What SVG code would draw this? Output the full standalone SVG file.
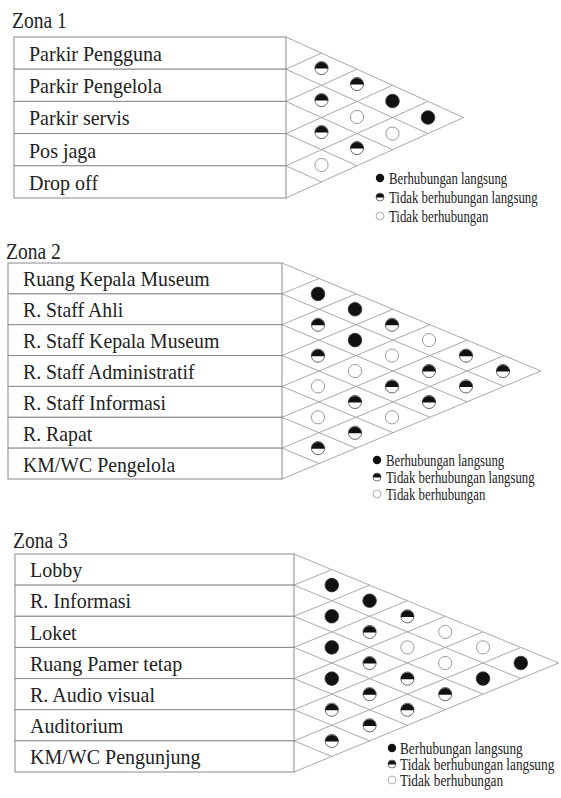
<svg xmlns="http://www.w3.org/2000/svg" xmlns:xlink="http://www.w3.org/1999/xlink" width="561" height="798" viewBox="0 0 561 798">
<style>
.bg{fill:#ffffff}
.box{fill:#ffffff;stroke:#8a8a8a;stroke-width:1}
.grid{stroke:#a8a8a8;stroke-width:1;fill:none}
.title{font-family:"Liberation Serif","Times New Roman",serif;font-size:23px;fill:#222}
.lbl{font-family:"Liberation Serif","Times New Roman",serif;font-size:22px;fill:#222}
.leg{font-family:"Liberation Serif","Times New Roman",serif;font-size:16px;fill:#222}
</style>
<defs>
<g id="full"><circle r="6.8" fill="#111" stroke="#333" stroke-width="0.8"/></g>
<g id="half"><circle r="6.6" fill="#fff" stroke="#555" stroke-width="0.9"/><path d="M-6.6,0.6 A6.6,6.6 0 0 1 6.6,0.6 Z" fill="#111"/></g>
<g id="open"><circle r="6.6" fill="#fff" stroke="#9a9a9a" stroke-width="1"/></g>
<g id="lfull"><circle r="4.2" fill="#111"/></g>
<g id="lhalf"><circle r="4" fill="#fff" stroke="#555" stroke-width="0.8"/><path d="M-4,0.4 A4,4 0 0 1 4,0.4 Z" fill="#111"/></g>
<g id="lopen"><circle r="4" fill="#fff" stroke="#9a9a9a" stroke-width="0.8"/></g>
</defs>
<rect class="bg" x="0" y="0" width="561" height="798"/>

<!-- ZONA 1 -->
<g id="zona1">
<text class="title" transform="translate(12,28) scale(0.85,1)">Zona 1</text>
<g id="z1-connectors" class="grid">
<path d="M286,37 L463.5,117.5 L286,198"/>
<path d="M286,69.2 L428,133.6 M286,69.2 L321.5,53.1"/>
<path d="M286,101.4 L392.5,149.7 M286,101.4 L357,69.2"/>
<path d="M286,133.6 L357,165.8 M286,133.6 L392.5,85.3"/>
<path d="M286,165.8 L321.5,181.9 M286,165.8 L428,101.4"/>
</g>
<g id="z1-parkir-pengguna"><rect class="box" x="14" y="37" width="272" height="32.2"/><text class="lbl" transform="translate(29,61) scale(0.91,1)">Parkir Pengguna</text></g>
<g id="z1-parkir-pengelola"><rect class="box" x="14" y="69.2" width="272" height="32.2"/><text class="lbl" transform="translate(29,93.2) scale(0.91,1)">Parkir Pengelola</text></g>
<g id="z1-parkir-servis"><rect class="box" x="14" y="101.4" width="272" height="32.2"/><text class="lbl" transform="translate(29,125.4) scale(0.91,1)">Parkir servis</text></g>
<g id="z1-pos-jaga"><rect class="box" x="14" y="133.6" width="272" height="32.2"/><text class="lbl" transform="translate(29,157.6) scale(0.91,1)">Pos jaga</text></g>
<g id="z1-drop-off"><rect class="box" x="14" y="165.8" width="272" height="32.2"/><text class="lbl" transform="translate(29,189.8) scale(0.91,1)">Drop off</text></g>
<g id="z1-relations">
<use xlink:href="#half" x="321.5" y="68"/>
<use xlink:href="#half" x="321.5" y="100"/>
<use xlink:href="#half" x="321.5" y="132"/>
<use xlink:href="#open" x="321.5" y="165"/>
<use xlink:href="#half" x="357" y="84"/>
<use xlink:href="#open" x="357" y="117"/>
<use xlink:href="#half" x="357" y="148"/>
<use xlink:href="#full" x="392.5" y="101"/>
<use xlink:href="#open" x="392.5" y="133.6"/>
<use xlink:href="#full" x="428" y="117.5"/>
</g>
<g id="z1-legend">
<use xlink:href="#lfull" x="380" y="178"/><text class="leg" transform="translate(389,183.5) scale(0.8,1)">Berhubungan langsung</text>
<use xlink:href="#lhalf" x="380" y="197"/><text class="leg" transform="translate(389,202.5) scale(0.8,1)">Tidak berhubungan langsung</text>
<use xlink:href="#lopen" x="380" y="216"/><text class="leg" transform="translate(389,221.5) scale(0.8,1)">Tidak berhubungan</text>
</g>
</g>

<!-- ZONA 2 -->
<g id="zona2">
<text class="title" transform="translate(6,259) scale(0.85,1)">Zona 2</text>
<g id="z2-connectors" class="grid">
<path d="M282,263 L541,371 L282,479"/>
<path d="M282,293.86 L504,386.43 M282,293.86 L319,278.43"/>
<path d="M282,324.71 L467,401.86 M282,324.71 L356,293.86"/>
<path d="M282,355.57 L430,417.29 M282,355.57 L393,309.29"/>
<path d="M282,386.43 L393,432.71 M282,386.43 L430,324.71"/>
<path d="M282,417.29 L356,448.14 M282,417.29 L467,340.14"/>
<path d="M282,448.14 L319,463.57 M282,448.14 L504,355.57"/>
</g>
<g id="z2-ruang-kepala-museum"><rect class="box" x="8" y="263" width="274" height="30.86"/><text class="lbl" transform="translate(23,286.3) scale(0.9,1)">Ruang Kepala Museum</text></g>
<g id="z2-staff-ahli"><rect class="box" x="8" y="293.86" width="274" height="30.86"/><text class="lbl" transform="translate(23,317.2) scale(0.9,1)">R. Staff Ahli</text></g>
<g id="z2-staff-kepala-museum"><rect class="box" x="8" y="324.71" width="274" height="30.86"/><text class="lbl" transform="translate(23,348) scale(0.9,1)">R. Staff Kepala Museum</text></g>
<g id="z2-staff-administratif"><rect class="box" x="8" y="355.57" width="274" height="30.86"/><text class="lbl" transform="translate(23,378.9) scale(0.9,1)">R. Staff Administratif</text></g>
<g id="z2-staff-informasi"><rect class="box" x="8" y="386.43" width="274" height="30.86"/><text class="lbl" transform="translate(23,409.8) scale(0.9,1)">R. Staff Informasi</text></g>
<g id="z2-rapat"><rect class="box" x="8" y="417.29" width="274" height="30.86"/><text class="lbl" transform="translate(23,440.6) scale(0.9,1)">R. Rapat</text></g>
<g id="z2-kmwc-pengelola"><rect class="box" x="8" y="448.14" width="274" height="30.86"/><text class="lbl" transform="translate(23,471.5) scale(0.9,1)">KM/WC Pengelola</text></g>
<g id="z2-relations">
<use xlink:href="#full" x="318" y="293.9"/>
<use xlink:href="#half" x="318" y="324.7"/>
<use xlink:href="#half" x="318" y="355.6"/>
<use xlink:href="#open" x="318" y="386.4"/>
<use xlink:href="#open" x="318" y="417.3"/>
<use xlink:href="#half" x="318" y="448.1"/>
<use xlink:href="#full" x="355" y="309.3"/>
<use xlink:href="#full" x="355" y="340.1"/>
<use xlink:href="#open" x="355" y="371"/>
<use xlink:href="#half" x="355" y="401.9"/>
<use xlink:href="#half" x="355" y="432.7"/>
<use xlink:href="#half" x="392" y="324.7"/>
<use xlink:href="#open" x="392" y="355.6"/>
<use xlink:href="#half" x="392" y="386.4"/>
<use xlink:href="#open" x="392" y="417.3"/>
<use xlink:href="#open" x="429" y="340.1"/>
<use xlink:href="#half" x="429" y="371"/>
<use xlink:href="#half" x="429" y="401.9"/>
<use xlink:href="#half" x="466" y="355.6"/>
<use xlink:href="#half" x="466" y="386.4"/>
<use xlink:href="#half" x="503" y="371"/>
</g>
<g id="z2-legend">
<use xlink:href="#lfull" x="377" y="460"/><text class="leg" transform="translate(386,465.5) scale(0.8,1)">Berhubungan langsung</text>
<use xlink:href="#lhalf" x="377" y="477"/><text class="leg" transform="translate(386,482.5) scale(0.8,1)">Tidak berhubungan langsung</text>
<use xlink:href="#lopen" x="377" y="494"/><text class="leg" transform="translate(386,499.5) scale(0.8,1)">Tidak berhubungan</text>
</g>
</g>

<!-- ZONA 3 -->
<g id="zona3">
<text class="title" transform="translate(13,548) scale(0.85,1)">Zona 3</text>
<g id="z3-connectors" class="grid">
<path d="M294,554 L558.6,663 L294,772"/>
<path d="M294,585.14 L520.8,678.57 M294,585.14 L331.8,569.57"/>
<path d="M294,616.29 L483,694.14 M294,616.29 L369.6,585.14"/>
<path d="M294,647.43 L445.2,709.71 M294,647.43 L407.4,600.71"/>
<path d="M294,678.57 L407.4,725.29 M294,678.57 L445.2,616.29"/>
<path d="M294,709.71 L369.6,740.86 M294,709.71 L483,631.86"/>
<path d="M294,740.86 L331.8,756.43 M294,740.86 L520.8,647.43"/>
</g>
<g id="z3-lobby"><rect class="box" x="15" y="554" width="279" height="31.14"/><text class="lbl" transform="translate(30,577.3) scale(0.91,1)">Lobby</text></g>
<g id="z3-informasi"><rect class="box" x="15" y="585.14" width="279" height="31.14"/><text class="lbl" transform="translate(30,608.4) scale(0.91,1)">R. Informasi</text></g>
<g id="z3-loket"><rect class="box" x="15" y="616.29" width="279" height="31.14"/><text class="lbl" transform="translate(30,639.6) scale(0.91,1)">Loket</text></g>
<g id="z3-ruang-pamer-tetap"><rect class="box" x="15" y="647.43" width="279" height="31.14"/><text class="lbl" transform="translate(30,670.7) scale(0.91,1)">Ruang Pamer tetap</text></g>
<g id="z3-audio-visual"><rect class="box" x="15" y="678.57" width="279" height="31.14"/><text class="lbl" transform="translate(30,701.9) scale(0.91,1)">R. Audio visual</text></g>
<g id="z3-auditorium"><rect class="box" x="15" y="709.71" width="279" height="31.14"/><text class="lbl" transform="translate(30,733) scale(0.91,1)">Auditorium</text></g>
<g id="z3-kmwc-pengunjung"><rect class="box" x="15" y="740.86" width="279" height="31.14"/><text class="lbl" transform="translate(30,764.2) scale(0.91,1)">KM/WC Pengunjung</text></g>
<g id="z3-relations">
<use xlink:href="#full" x="331.8" y="585.1"/>
<use xlink:href="#full" x="331.8" y="616.3"/>
<use xlink:href="#full" x="331.8" y="647.4"/>
<use xlink:href="#full" x="331.8" y="678.6"/>
<use xlink:href="#half" x="331.8" y="709.7"/>
<use xlink:href="#half" x="331.8" y="740.9"/>
<use xlink:href="#full" x="369.6" y="600.7"/>
<use xlink:href="#half" x="369.6" y="631.9"/>
<use xlink:href="#half" x="369.6" y="663"/>
<use xlink:href="#half" x="369.6" y="694.1"/>
<use xlink:href="#half" x="369.6" y="725.3"/>
<use xlink:href="#half" x="407.4" y="616.3"/>
<use xlink:href="#open" x="407.4" y="647.4"/>
<use xlink:href="#half" x="407.4" y="678.6"/>
<use xlink:href="#half" x="407.4" y="709.7"/>
<use xlink:href="#open" x="445.2" y="631.9"/>
<use xlink:href="#open" x="445.2" y="663"/>
<use xlink:href="#half" x="445.2" y="694.1"/>
<use xlink:href="#open" x="483" y="647.4"/>
<use xlink:href="#full" x="483" y="678.6"/>
<use xlink:href="#full" x="520.8" y="663"/>
</g>
<g id="z3-legend">
<use xlink:href="#lfull" x="392" y="748"/><text class="leg" transform="translate(400,753.5) scale(0.83,1)">Berhubungan langsung</text>
<use xlink:href="#lhalf" x="392" y="764"/><text class="leg" transform="translate(400,769.5) scale(0.83,1)">Tidak berhubungan langsung</text>
<use xlink:href="#lopen" x="392" y="780"/><text class="leg" transform="translate(400,785.5) scale(0.83,1)">Tidak berhubungan</text>
</g>
</g>
</svg>
